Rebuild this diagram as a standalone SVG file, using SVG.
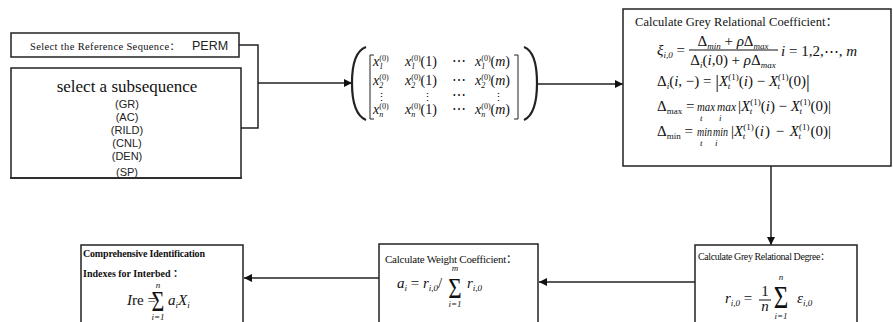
<svg xmlns="http://www.w3.org/2000/svg" width="893" height="322" viewBox="0 0 893 322">
<defs>
<marker id="ah" markerWidth="8" markerHeight="8" refX="8" refY="4" orient="auto" markerUnits="userSpaceOnUse"><path d="M0,0 L8,4 L0,8 z" fill="#111"/></marker>
<style>
.box{fill:#fff;stroke:#222;stroke-width:1.5}
.ln{fill:none;stroke:#222;stroke-width:1.5}
.t{font-family:"Liberation Serif","Noto Sans CJK SC",serif;fill:#111}
.s{font-family:"Liberation Sans","DejaVu Sans","Noto Sans CJK SC",sans-serif;fill:#222}
.m{font-family:"Liberation Serif","DejaVu Serif",serif;font-size:15px;fill:#111}
.mx{font-family:"Liberation Serif","DejaVu Serif",serif;font-size:14px;fill:#111}
.i{font-style:italic}
.sm{font-size:9px}
.xs{font-size:8px}
</style>
</defs>
<rect width="893" height="322" fill="#fff"/>
<g id="connectors">
<path class="ln" d="M239,45 H258 V128 H241"/>
<path class="ln" d="M258,83 H352" marker-end="url(#ah)"/>
<path class="ln" d="M536,84 H623" marker-end="url(#ah)"/>
<path class="ln" d="M771,166 V245" marker-end="url(#ah)"/>
<path class="ln" d="M695,282 H539" marker-end="url(#ah)"/>
<path class="ln" d="M379,278 H244" marker-end="url(#ah)"/>
</g>
<g id="ref-seq">
<rect class="box" x="11" y="33" width="228" height="24"/>
<text x="30" y="50" class="t" font-size="10.5" textLength="150" lengthAdjust="spacing">Select the Reference Sequence：</text>
<text x="192" y="50" class="s" font-size="12.5">PERM</text>
</g>
<g id="subsequence">
<rect class="box" x="11" y="68" width="230" height="110"/>
<text x="127" y="92" class="t" font-size="17" text-anchor="middle">select a subsequence</text>
<g class="s" font-size="11" text-anchor="middle">
<text x="127" y="108">(GR)</text>
<text x="127" y="121">(AC)</text>
<text x="127" y="134">(RILD)</text>
<text x="127" y="147">(CNL)</text>
<text x="127" y="160">(DEN)</text>
<text x="127" y="176">(SP)</text>
</g>
<rect x="10" y="177.3" width="232" height="1.5" fill="#222"/>
</g>
<g id="matrix">
<path d="M366,47 Q352,52 352,83 Q352,114 366,120" fill="none" stroke="#222" stroke-width="2.2"/>
<path d="M524,47 Q537,52 537,83 Q537,114 524,120" fill="none" stroke="#222" stroke-width="2.2"/>
<path d="M374,55 H370 V119 H374" fill="none" stroke="#222" stroke-width="1"/>
<path d="M514,55 H518 V119 H514" fill="none" stroke="#222" stroke-width="1"/>
<g class="mx">
<text x="373" y="66"><tspan class="i">x</tspan><tspan class="xs" dy="-5">(0)</tspan><tspan class="xs i" dx="-9.4" dy="8">1</tspan></text>
<text x="405" y="66"><tspan class="i">x</tspan><tspan class="xs" dy="-5">(0)</tspan><tspan class="xs i" dx="-9.4" dy="8">1</tspan><tspan dx="5.4" dy="-3">(1)</tspan></text>
<text x="452" y="66">⋯</text>
<text x="475" y="66"><tspan class="i">x</tspan><tspan class="xs" dy="-5">(0)</tspan><tspan class="xs i" dx="-9.4" dy="8">1</tspan><tspan dx="5.4" dy="-3">(</tspan><tspan class="i">m</tspan>)</text>
<text x="373" y="85"><tspan class="i">x</tspan><tspan class="xs" dy="-5">(0)</tspan><tspan class="xs i" dx="-9.4" dy="8">2</tspan></text>
<text x="405" y="85"><tspan class="i">x</tspan><tspan class="xs" dy="-5">(0)</tspan><tspan class="xs i" dx="-9.4" dy="8">2</tspan><tspan dx="5.4" dy="-3">(1)</tspan></text>
<text x="452" y="85">⋯</text>
<text x="475" y="85"><tspan class="i">x</tspan><tspan class="xs" dy="-5">(0)</tspan><tspan class="xs i" dx="-9.4" dy="8">2</tspan><tspan dx="5.4" dy="-3">(</tspan><tspan class="i">m</tspan>)</text>
<text x="376" y="101" font-size="11">⋮</text>
<text x="422" y="101" font-size="11">⋮</text>
<text x="452" y="100">⋯</text>
<text x="493" y="101" font-size="11">⋮</text>
<text x="373" y="114"><tspan class="i">x</tspan><tspan class="xs" dy="-5">(0)</tspan><tspan class="xs i" dx="-9.4" dy="8">n</tspan></text>
<text x="405" y="114"><tspan class="i">x</tspan><tspan class="xs" dy="-5">(0)</tspan><tspan class="xs i" dx="-9.4" dy="8">n</tspan><tspan dx="5.4" dy="-3">(1)</tspan></text>
<text x="452" y="114">⋯</text>
<text x="475" y="114"><tspan class="i">x</tspan><tspan class="xs" dy="-5">(0)</tspan><tspan class="xs i" dx="-9.4" dy="8">n</tspan><tspan dx="5.4" dy="-3">(</tspan><tspan class="i">m</tspan>)</text>
</g>
</g>
<g id="grey-coefficient">
<rect class="box" x="623" y="9" width="268" height="157"/>
<text x="635" y="26" class="t" font-size="12.5" textLength="203" lengthAdjust="spacing">Calculate  Grey Relational  Coefficient：</text>
<g class="m">
<text x="657" y="55"><tspan class="i">ξ</tspan><tspan class="sm i" dy="3">i,0</tspan><tspan dy="-3"> =</tspan></text>
<text x="733" y="46" text-anchor="middle">Δ<tspan class="sm i" dy="3">min</tspan><tspan dy="-3"> + </tspan><tspan class="i">ρ</tspan>Δ<tspan class="sm i" dy="3">max</tspan></text>
<rect x="689" y="49.5" width="89" height="1" fill="#111"/>
<text x="733" y="65" text-anchor="middle">Δ<tspan class="sm i" dy="3">i</tspan><tspan dy="-3">(</tspan><tspan class="i">i</tspan>,0) + <tspan class="i">ρ</tspan>Δ<tspan class="sm i" dy="3">max</tspan></text>
<text x="781" y="56"><tspan class="i">i</tspan> = 1,2,⋯, <tspan class="i">m</tspan></text>
<text x="657" y="86">Δ<tspan class="sm i" dy="3">i</tspan><tspan dy="-3">(</tspan><tspan class="i">i</tspan>, −) = <tspan font-size="19" dy="2">|</tspan><tspan class="i" dy="-2">X</tspan><tspan class="sm" dy="-6">(1)</tspan><tspan class="sm i" dx="-11" dy="9">t</tspan><tspan dx="8.5" dy="-3">(</tspan><tspan class="i">i</tspan>) − <tspan class="i">X</tspan><tspan class="sm" dy="-6">(1)</tspan><tspan class="sm i" dx="-11" dy="9">t</tspan><tspan dx="8.5" dy="-3">(0)</tspan><tspan font-size="19" dy="2">|</tspan></text>
<text x="657" y="111">Δ<tspan class="sm" dy="3">max</tspan><tspan dy="-3"> =</tspan></text>
<text x="697" y="111" class="i" font-size="13" textLength="18" lengthAdjust="spacingAndGlyphs">max</text>
<text x="717" y="111" class="i" font-size="13" textLength="19" lengthAdjust="spacingAndGlyphs">max</text>
<text x="738" y="111">|<tspan class="i">X</tspan><tspan class="sm" dy="-6">(1)</tspan><tspan class="sm i" dx="-11" dy="9">t</tspan><tspan dx="8.5" dy="-3">(</tspan><tspan class="i">i</tspan>) − <tspan class="i">X</tspan><tspan class="sm" dy="-6">(1)</tspan><tspan class="sm i" dx="-11" dy="9">t</tspan><tspan dx="8.5" dy="-3">(0)|</tspan></text>
<text x="700" y="121" class="sm i">t</text>
<text x="719" y="121" class="sm i">i</text>
<text x="657" y="136">Δ<tspan class="sm" dy="3">min</tspan><tspan dy="-3"> =</tspan></text>
<text x="697" y="136" class="i" font-size="13" textLength="15" lengthAdjust="spacingAndGlyphs">min</text>
<text x="713" y="136" class="i" font-size="13" textLength="15" lengthAdjust="spacingAndGlyphs">min</text>
<text x="731" y="136">|<tspan class="i">X</tspan><tspan class="sm" dy="-6">(1)</tspan><tspan class="sm i" dx="-11" dy="9">t</tspan><tspan dx="9.5" dy="-3">(</tspan><tspan class="i">i</tspan><tspan dx="1">)</tspan><tspan dx="2"> − </tspan><tspan class="i" dx="2">X</tspan><tspan class="sm" dy="-6">(1)</tspan><tspan class="sm i" dx="-11" dy="9">t</tspan><tspan dx="9.5" dy="-3">(0)|</tspan></text>
<text x="700" y="146" class="sm i">t</text>
<text x="715" y="146" class="sm i">i</text>
</g>
</g>
<g id="grey-degree">
<rect class="box" x="695" y="245" width="162" height="82"/>
<text x="698" y="260" class="t" font-size="10" textLength="132" lengthAdjust="spacing">Calculate Grey Relational Degree：</text>
<g class="m">
<text x="725" y="303"><tspan class="i">r</tspan><tspan class="sm i" dy="3">i,0</tspan><tspan dy="-3"> =</tspan></text>
<text x="765" y="296" text-anchor="middle">1</text>
<rect x="759" y="299.5" width="12" height="1" fill="#111"/>
<text x="765" y="311" text-anchor="middle" class="i">n</text>
<text transform="translate(781,308) scale(1.25,1.55)" font-size="20" text-anchor="middle">Σ</text>
<text x="781" y="280" class="sm i" text-anchor="middle">n</text>
<text x="781" y="319" class="sm i" text-anchor="middle">i=1</text>
<text x="797" y="303"><tspan class="i">ε</tspan><tspan class="sm i" dy="3">i,0</tspan></text>
</g>
</g>
<g id="weight-coefficient">
<rect class="box" x="379" y="244" width="159" height="82"/>
<text x="385" y="263" class="t" font-size="11" textLength="132" lengthAdjust="spacing">Calculate Weight Coefficient：</text>
<g class="m">
<text x="397" y="288"><tspan class="i">a</tspan><tspan class="sm i" dy="3">i</tspan><tspan dy="-3"> = </tspan><tspan class="i">r</tspan><tspan class="sm i" dy="3">i,0</tspan><tspan dy="-3">/</tspan></text>
<text transform="translate(455,298) scale(1.15,1.5)" font-size="20" text-anchor="middle">Σ</text>
<text x="455" y="271" class="sm i" text-anchor="middle">m</text>
<text x="455" y="307" class="sm i" text-anchor="middle">i=1</text>
<text x="467" y="288"><tspan class="i">r</tspan><tspan class="sm i" dy="3">i,0</tspan></text>
</g>
</g>
<g id="comprehensive">
<rect class="box" x="81" y="245" width="162" height="82"/>
<text x="83" y="257" class="t" font-size="10" font-weight="bold" textLength="122" lengthAdjust="spacing">Comprehensive Identification</text>
<text x="83" y="277" class="t" font-size="10" font-weight="bold">Indexes for Interbed ：</text>
<g class="m">
<text x="127" y="305"><tspan class="i">I</tspan>re =</text>
<text transform="translate(158,311) scale(1.1,1.45)" font-size="20" text-anchor="middle">Σ</text>
<text x="158" y="288" class="sm i" text-anchor="middle">n</text>
<text x="158" y="320" class="sm i" text-anchor="middle">i=1</text>
<text x="168" y="305"><tspan class="i">a</tspan><tspan class="sm i" dy="3">i</tspan><tspan class="i" dy="-3">X</tspan><tspan class="sm i" dy="3">i</tspan></text>
</g>
</g>
</svg>
